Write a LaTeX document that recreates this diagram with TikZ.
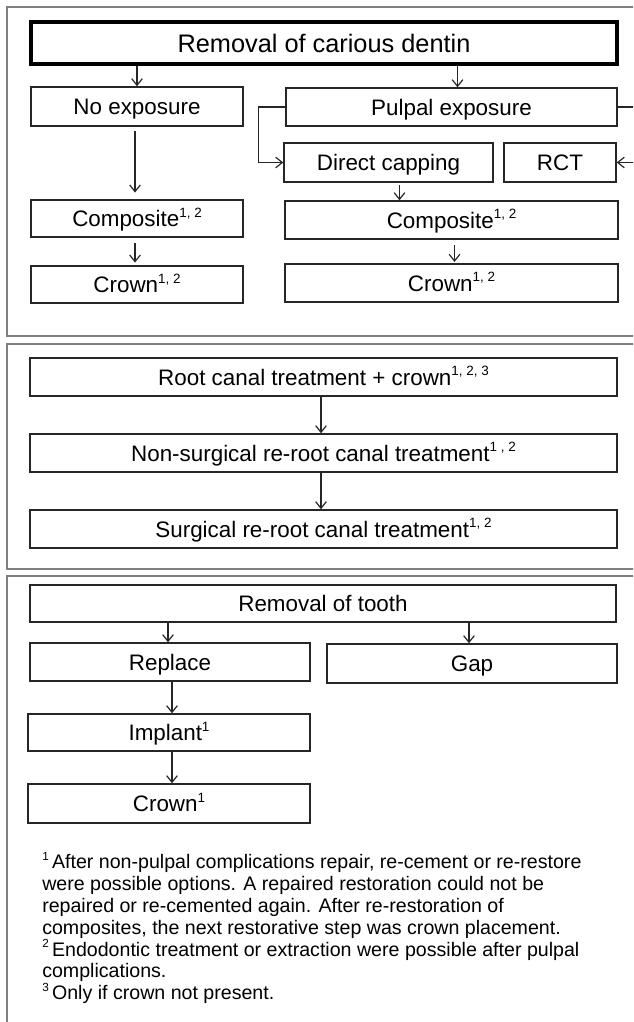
\documentclass[tikz,border=0pt]{standalone}
\usepackage{fontspec}
\setmainfont{Liberation Sans}
\usepackage{tikz}
\usetikzlibrary{arrows.meta,positioning,calc}
\usepackage{xcolor}

\newlength\pxu
\setlength\pxu{0.75pt}
\newcommand\fnm[1]{\raisebox{0.42em}{\scalebox{0.6}{#1}}}

\begin{document}
\begin{tikzpicture}[
  x=0.75pt,y=-0.75pt,
  bx/.style={draw=black!85,line width=1.1pt,inner sep=0pt,text height=12.1pt,text depth=0pt,
    font=\fontsize{16.8}{19}\selectfont},
  hd/.style={bx,draw=black,line width=2.6pt,text height=13.7pt,font=\fontsize{19}{22}\selectfont},
  ar/.style={-{Straight Barb[length=5pt,width=8pt]},line width=0.9pt,black!85},
  ln/.style={line width=0.9pt,black!85},
  pn/.style={draw=black!50,line width=1.1pt},
  fn/.style={align=left,inner sep=0pt,font=\fontsize{14.7}{16.4}\selectfont}]
  \useasboundingbox (0,0) rectangle (633,1022);
  \clip (0,0) rectangle (633,1022);
  % panels
  \draw[pn] (7,7) rectangle (650,336);
  \draw[pn] (7,344) rectangle (650,569);
  \draw[pn] (7,576) rectangle (650,1040);
  % carious dentin
  \node[hd,minimum width=586\pxu,minimum height=42\pxu] (top) at (324,43) {Removal of carious dentin};
  \node[bx,minimum width=212\pxu,minimum height=39\pxu] (noexp) at (137,106.5) {No exposure};
  \node[bx,minimum width=331\pxu,minimum height=38\pxu] (pulp) at (451.5,107) {Pulpal exposure};
  \node[bx,minimum width=209\pxu,minimum height=39\pxu] (dcap) at (388.5,162.5) {Direct capping};
  \node[bx,minimum width=112\pxu,minimum height=39\pxu] (rct) at (560,162.5) {RCT};
  \node[bx,minimum width=212\pxu,minimum height=37\pxu] (compL) at (137,218.5) {Composite\fnm{1, 2}};
  \node[bx,minimum width=212\pxu,minimum height=37\pxu] (crownL) at (137,284.5) {Crown\fnm{1, 2}};
  \node[bx,minimum width=333\pxu,minimum height=38\pxu] (compR) at (451.5,220) {Composite\fnm{1, 2}};
  \node[bx,minimum width=333\pxu,minimum height=38\pxu] (crownR) at (451.5,283) {Crown\fnm{1, 2}};
  \coordinate (eR1) at (640,107);
  \coordinate (eR2) at (640,162.5);
  \draw[ar] (top.south -| noexp) -- (noexp);
  \draw[ar] ([xshift=6\pxu]top.south -| pulp) -- ([xshift=6\pxu]pulp.north);
  \draw[ar,shorten <=3pt,shorten >=5pt] ([xshift=-2\pxu]noexp.south) -- ([xshift=-2\pxu]compL.north);
  \draw[ln] (pulp.west) -- ++(-27,0) |- (dcap.west);
  \draw[ar] (pulp.west) ++(-27,0) |- (dcap.west);
  \draw[ln] (pulp.east) -- (eR1);
  \draw[ar] (eR2) -- (rct.east);
  \draw[ar,shorten <=2pt] ([xshift=11\pxu]dcap.south) -- ([xshift=11\pxu]dcap.south |- compR.north);
  \draw[ar,shorten <=4pt,shorten >=2pt] ([xshift=-2\pxu]compL.south) -- ([xshift=-2\pxu]crownL.north);
  \draw[ar,shorten <=4pt,shorten >=1pt] ([xshift=3\pxu]compR.south) -- ([xshift=3\pxu]crownR.north);
  % root canal
  \node[bx,minimum width=587\pxu,minimum height=38\pxu] (rcc) at (323.5,377) {Root canal treatment + crown\fnm{1, 2, 3}};
  \node[bx,minimum width=587\pxu,minimum height=38\pxu] (nsrg) at (323.5,453) {Non-surgical re-root canal treatment\fnm{1 , 2}};
  \node[bx,minimum width=587\pxu,minimum height=38\pxu] (srg) at (323.5,529) {Surgical re-root canal treatment\fnm{1, 2}};
  \draw[ar] ([xshift=-2.5\pxu]rcc.south) -- ([xshift=-2.5\pxu]nsrg.north);
  \draw[ar] ([xshift=-2.5\pxu]nsrg.south) -- ([xshift=-2.5\pxu]srg.north);
  % extraction
  \node[bx,minimum width=586\pxu,minimum height=37\pxu] (tooth) at (323,603.5) {Removal of tooth};
  \node[bx,minimum width=280\pxu,minimum height=38\pxu] (repl) at (170,662) {Replace};
  \node[bx,minimum width=290\pxu,minimum height=39\pxu] (gap) at (472,663.5) {Gap};
  \node[bx,minimum width=282\pxu,minimum height=37\pxu] (impl) at (169,732.5) {Implant\fnm{1}};
  \node[bx,minimum width=282\pxu,minimum height=39\pxu] (crownT) at (169,803.5) {Crown\fnm{1}};
  \draw[ar] ([xshift=-2\pxu]tooth.south -| repl) -- ([xshift=-2\pxu]repl.north);
  \draw[ar] ([xshift=-3\pxu]tooth.south -| gap) -- ([xshift=-3\pxu]gap.north);
  \draw[ar] ([xshift=2\pxu]repl.south) -- ([xshift=2\pxu]repl.south |- impl.north);
  \draw[ar] ([xshift=3\pxu]impl.south) -- ([xshift=3\pxu]impl.south |- crownT.north);
  % notes
  \node[fn,anchor=north west] (notes) at (42,852) {%
    \fnm{1}\,After non-pulpal complications repair, re-cement or re-restore\\
    were possible options. A repaired restoration could not be\\
    repaired or re-cemented again. After re-restoration of\\
    composites, the next restorative step was crown placement.\\
    \fnm{2}\,Endodontic treatment or extraction were possible after pulpal\\
    complications.\\
    \fnm{3}\,Only if crown not present.};
\end{tikzpicture}
\end{document}
